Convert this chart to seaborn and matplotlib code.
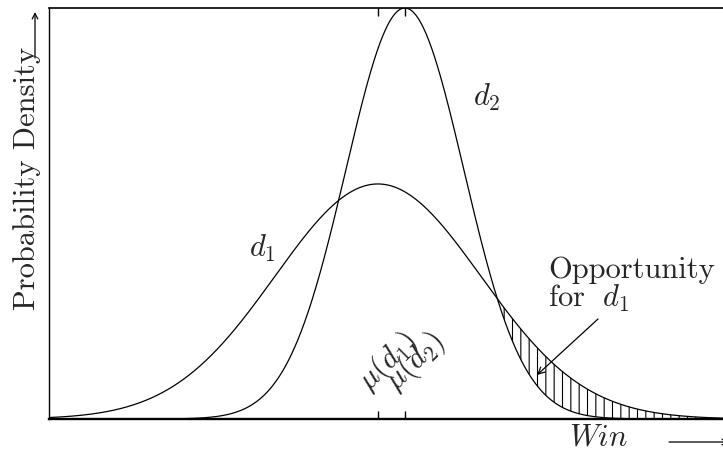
import numpy as np
import pandas as pd
import matplotlib
matplotlib.use("Agg")
import matplotlib.pyplot as plt
import seaborn as sns

# Two win distributions (normal), given by mean and spread
dist_names = ["d1", "d2"]
dist_means = [0.488, 0.528]
dist_sds = [0.153, 0.0875]
mean_labels = [r"$\mu(d_1)$", r"$\mu(d_2)$"]
curve_labels = [r"$d_1$", r"$d_2$"]

sns.set_theme(style="white")
plt.rcParams["font.family"] = ["cmr10", "DejaVu Serif"]
plt.rcParams["mathtext.fontset"] = "cm"
plt.rcParams["axes.unicode_minus"] = False
plt.rcParams["hatch.linewidth"] = 0.8
plt.rcParams["hatch.color"] = "black"

x = np.linspace(0, 1, 1500)
frames = []
for name, m, s in zip(dist_names, dist_means, dist_sds):
    pdf = np.exp(-0.5 * ((x - m) / s) ** 2) / (s * np.sqrt(2 * np.pi))
    frames.append(pd.DataFrame({"win": x, "density": pdf, "dist": name}))
df = pd.concat(frames, ignore_index=True)

W, H = 723, 454
fig = plt.figure(figsize=(W / 100, H / 100), dpi=100)
ax = fig.add_axes([49 / W, 1 - 419 / H, (723 - 49) / W, (419 - 8) / H])

sns.lineplot(data=df, x="win", y="density", hue="dist",
             palette=["black", "black"], linewidth=0.9,
             estimator=None, legend=False, ax=ax)

d1 = df.loc[df.dist == "d1", "density"].to_numpy()
d2 = df.loc[df.dist == "d2", "density"].to_numpy()
ymax = d2.max()

# region on the right where d1 exceeds d2
mask = (x > dist_means[1]) & (d1 >= d2)
ax.fill_between(x, d2, d1, where=mask, interpolate=True,
                facecolor="none", edgecolor="black", hatch="||", linewidth=0)

ax.set_xlim(0, 1)
ax.set_ylim(0, ymax)
ax.set_xlabel("")
ax.set_ylabel("")
ax.set_yticks([])
ax.set_xticks(dist_means)
ax.set_xticklabels([])
ax.tick_params(axis="x", direction="in", length=6, width=1, color="black",
               top=True, bottom=True, labelbottom=False, labeltop=False)

for side in ["left", "bottom", "top"]:
    ax.spines[side].set_visible(True)
    ax.spines[side].set_color("black")
ax.spines["left"].set_linewidth(1.0)
ax.spines["bottom"].set_linewidth(1.7)
ax.spines["top"].set_linewidth(1.2)
ax.spines["right"].set_visible(False)

fs = 22
xt = ax.get_xaxis_transform()
for m, lab in zip(dist_means, mean_labels):
    ax.text(m - 9 / 674, 0.066, lab, transform=xt, rotation=45,
            rotation_mode="anchor", ha="left", va="baseline", fontsize=fs)

ax.text(0.316, 0.416, curve_labels[0], transform=ax.transAxes,
        ha="center", va="center", fontsize=fs)
ax.text(0.650, 0.783, curve_labels[1], transform=ax.transAxes,
        ha="center", va="center", fontsize=fs)

ax.text((548 - 49) / 674, (419 - 278) / 411, "Opportunity",
        transform=ax.transAxes, ha="left", va="baseline", fontsize=fs)
ax.text((548 - 49) / 674, (419 - 307) / 411, r"for $\;d_1$",
        transform=ax.transAxes, ha="left", va="baseline", fontsize=fs)
ax.annotate("", xy=((537 - 49) / 674, (419 - 375) / 411),
            xytext=((598 - 49) / 674, (419 - 319) / 411),
            xycoords="axes fraction", textcoords="axes fraction",
            arrowprops=dict(arrowstyle="->", lw=0.9, color="black",
                            shrinkA=0, shrinkB=0, mutation_scale=12))

# axis titles with arrows
fig.text(35 / W, 1 - 178 / H, "Probability Density", rotation=90,
         rotation_mode="anchor", ha="center", va="baseline", fontsize=fs)
ax.annotate("", xy=(35, H - 12), xytext=(35, H - 58),
            xycoords="figure pixels", textcoords="figure pixels",
            annotation_clip=False,
            arrowprops=dict(arrowstyle="->", lw=0.9, color="black",
                            shrinkA=0, shrinkB=0, mutation_scale=10))

fig.text(598 / W, 1 - 446 / H, r"$Win$", ha="center", va="baseline", fontsize=fs)
ax.annotate("", xy=(729, H - 442), xytext=(669, H - 442),
            xycoords="figure pixels", textcoords="figure pixels",
            annotation_clip=False,
            arrowprops=dict(arrowstyle="->", lw=0.9, color="black",
                            shrinkA=0, shrinkB=0, mutation_scale=10))

fig.savefig("out.png", dpi=100)
